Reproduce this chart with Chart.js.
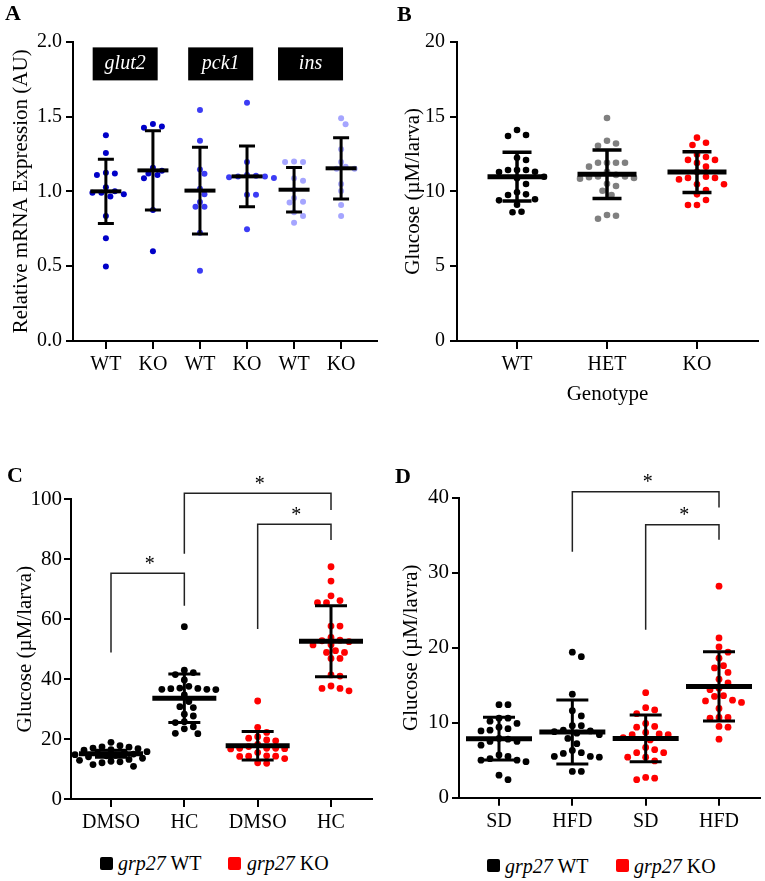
<!DOCTYPE html>
<html>
<head>
<meta charset="utf-8">
<script src="https://cdn.jsdelivr.net/npm/chart.js@4.4.1/dist/chart.umd.min.js"></script>
<style>
  body { margin: 0; background: #fff; }
  #fig { position: relative; width: 765px; height: 881px; font-family: "Liberation Serif", "Times New Roman", serif; color: #000; }
  canvas { position: absolute; }
  .letter { position: absolute; font-weight: bold; font-size: 22px; line-height: 22px; }
  .leg { position: absolute; font-size: 20px; line-height: 20px; white-space: nowrap; }
  .sq { position: absolute; width: 13px; height: 13px; border-radius: 2px; }
</style>
</head>
<body>
<div id="fig">
  <canvas id="chartA" width="380" height="430" style="left:0;top:0"></canvas>
  <canvas id="chartB" width="385" height="430" style="left:380px;top:0"></canvas>
  <canvas id="chartC" width="380" height="400" style="left:0;top:440px"></canvas>
  <canvas id="chartD" width="385" height="400" style="left:380px;top:440px"></canvas>

  <div class="letter" style="left:5px;top:2px">A</div>
  <div class="letter" style="left:397px;top:3px">B</div>
  <div class="letter" style="left:7px;top:464px">C</div>
  <div class="letter" style="left:395px;top:465px">D</div>

  <div class="sq" style="left:100px;top:857px;background:#000"></div>
  <div class="leg" style="left:118px;top:853px"><i>grp27</i> WT</div>
  <div class="sq" style="left:228px;top:857px;background:#f00"></div>
  <div class="leg" style="left:247px;top:853px"><i>grp27</i> KO</div>

  <div class="sq" style="left:487px;top:859px;background:#000"></div>
  <div class="leg" style="left:505px;top:856px"><i>grp27</i> WT</div>
  <div class="sq" style="left:616px;top:859px;background:#f00"></div>
  <div class="leg" style="left:634px;top:856px"><i>grp27</i> KO</div>
</div>

<script>
// ---- panel A: relative mRNA expression ----
const genesA = ["glut2", "pck1", "ins"];
const labelsA = ["WT", "KO", "WT", "KO", "WT", "KO"];
const glut2WT = [1.375, 1.257, 1.12, 1.125, 1.11, 1.027, 1.0, 0.99, 0.99, 0.965, 0.98, 0.835, 0.686, 0.497];
const glut2KO = [1.45, 1.425, 1.434, 1.158, 1.12, 1.087, 1.109, 1.138, 0.875, 0.60];
const pck1WT = [1.543, 1.338, 1.117, 1.146, 1.017, 0.98, 0.928, 0.897, 0.897, 0.724, 0.47];
const pck1KO = [1.592, 1.196, 1.10, 1.105, 1.09, 1.11, 1.1, 1.095, 0.977, 0.977, 0.746];
const insWT = [1.196, 1.196, 1.2, 1.087, 1.071, 1.01, 0.955, 0.93, 0.925, 0.86, 0.835, 0.79];
const insKO = [1.488, 1.449, 1.281, 1.196, 1.151, 1.151, 1.164, 1.049, 1.002, 0.909, 0.835];
const meanA = [1.0, 1.14, 1.005, 1.10, 1.011, 1.154];
const sdA = [0.214, 0.265, 0.29, 0.203, 0.149, 0.205];

// ---- panel B: glucose by genotype ----
const labelsB = ["WT", "HET", "KO"];
const glucWT = [14.1, 13.77, 13.7, 12.25, 12.09, 11.43, 11.43, 11.43, 11.31, 11.29, 10.98, 10.87, 10.49, 9.94, 9.8, 9.76, 9.47, 9.4, 9.11, 8.64, 8.6];
const glucHET = [14.9, 13.38, 13.2, 13.05, 11.91, 11.91, 11.91, 11.91, 11.65, 11.3, 11.1, 11.0, 10.95, 10.9, 10.85, 11.0, 10.5, 10.36, 10.04, 9.75, 8.42, 8.37, 8.17];
const glucKO = [13.59, 13.25, 13.1, 12.47, 12.3, 12.1, 12.1, 11.9, 11.65, 11.3, 10.98, 10.9, 10.9, 10.8, 10.47, 10.47, 10.09, 9.8, 9.42, 9.09, 9.09];
const meanB = [10.98, 11.14, 11.29];
const sdB = [1.625, 1.625, 1.36];

// ---- panel C: hydrocortisone ----
const labelsC = ["DMSO", "HC", "DMSO", "HC"];
const wtDMSO = [18.9, 17.8, 17.4, 17.3, 17.0, 16.8, 16.5, 16.3, 15.8, 15.5, 15.2, 15.0, 14.8, 14.6, 14.4, 14.1, 13.6, 13.2, 12.9, 12.6, 12.4, 12.1, 11.5, 10.9];
const wtHC = [57.5, 43.0, 42.2, 41.5, 39.7, 37.6, 37.0, 36.8, 36.6, 36.5, 36.6, 36.9, 34.7, 32.5, 30.8, 30.5, 28.3, 27.7, 25.8, 25.5, 24.1, 23.4, 21.9, 21.8];
const koDMSO = [32.7, 23.9, 22.2, 20.8, 20.3, 19.7, 19.4, 18.2, 17.5, 16.9, 16.9, 16.8, 16.9, 16.7, 14.3, 14.4, 14.3, 14.2, 12.1, 11.9, 13.5, 15.5];
const koHC = [77.5, 72.7, 67.8, 66.2, 65.5, 65.5, 57.7, 57.7, 53.9, 53.0, 52.8, 52.5, 51.4, 51.5, 49.5, 48.9, 48.9, 46.9, 46.9, 41.4, 41.0, 37.7, 36.9, 36.9, 36.1];
const meanC = [15.1, 33.6, 17.75, 52.65];
const sdC = [1.2, 8.1, 4.75, 11.85];
const bracketsC = [
  { from: 1, to: 2, top: 75.3, left: 48.9, right: 64.5 },
  { from: 2, to: 4, top: 102, left: 81.8, right: 96.4 },
  { from: 3, to: 4, top: 91.7, left: 56.7, right: 86.4 }
];

// ---- panel D: diet ----
const labelsD = ["SD", "HFD", "SD", "HFD"];
const wtSD = [12.4, 12.4, 10.6, 10.6, 10.2, 9.9, 9.4, 9.2, 9.0, 8.9, 7.9, 7.5, 7.5, 7.0, 5.7, 5.5, 5.2, 5.0, 4.8, 5.0, 3.0, 2.4, 7.8];
const wtHFD = [19.4, 18.8, 13.8, 11.6, 10.9, 9.6, 9.6, 9.0, 8.6, 8.4, 7.9, 7.2, 6.3, 6.0, 5.9, 5.5, 5.4, 5.5, 3.5, 3.5, 8.8, 8.9];
const koSD = [14.0, 12.0, 11.7, 11.2, 9.9, 9.5, 9.4, 8.7, 8.5, 8.4, 8.4, 7.7, 6.7, 6.4, 6.0, 6.0, 5.4, 5.4, 4.9, 2.7, 2.6, 2.4, 8.0];
const koHFD = [28.2, 21.3, 20.1, 19.4, 18.6, 17.6, 17.3, 16.7, 15.8, 15.3, 14.6, 14.4, 13.6, 13.5, 13.0, 12.9, 12.7, 11.9, 10.7, 10.7, 10.6, 9.5, 9.4, 7.8];
const meanD = [7.87, 8.76, 7.91, 14.84];
const sdD = [2.85, 4.27, 3.11, 4.62];
const bracketsD = [
  { from: 2, to: 4, top: 40.8, left: 32.8, right: 38.7 },
  { from: 3, to: 4, top: 36.4, left: 22.4, right: 34.4 }
];

Chart.defaults.font.family = '"Liberation Serif", "Times New Roman", serif';
Chart.defaults.color = "#000";

// spread points sideways so they don't overlap (simple beeswarm)
function swarm(values, center, pxX, pxY, minDist, step) {
  const order = values.map((v, i) => i).sort((a, b) => values[b] - values[a]);
  const placed = [];
  const pts = [];
  for (const i of order) {
    const py = values[i] * pxY;
    for (let k = 0; k < 80; k++) {
      const dx = (k % 2 ? 1 : -1) * Math.ceil(k / 2) * step;
      if (placed.every(p => (p.x - dx) ** 2 + (p.y - py) ** 2 >= minDist * minDist)) {
        placed.push({ x: dx, y: py });
        pts.push({ x: center + dx / pxX, y: values[i] });
        break;
      }
    }
  }
  return pts;
}

const meanSdPlugin = {
  id: "meanSd",
  afterDatasetsDraw(chart, args, opts) {
    const { ctx, scales: { x, y } } = chart;
    ctx.save();
    ctx.strokeStyle = "#000";
    opts.means.forEach((m, i) => {
      const cx = x.getPixelForValue(i + 1);
      const ym = y.getPixelForValue(m);
      const yt = y.getPixelForValue(m + opts.sds[i]);
      const yb = y.getPixelForValue(m - opts.sds[i]);
      ctx.lineWidth = opts.lineWidth;
      ctx.beginPath();
      ctx.moveTo(cx, yt); ctx.lineTo(cx, yb);
      ctx.moveTo(cx - opts.capHalf, yt); ctx.lineTo(cx + opts.capHalf, yt);
      ctx.moveTo(cx - opts.capHalf, yb); ctx.lineTo(cx + opts.capHalf, yb);
      ctx.stroke();
      ctx.lineWidth = opts.meanWidth;
      ctx.beginPath();
      ctx.moveTo(cx - opts.meanHalf, ym); ctx.lineTo(cx + opts.meanHalf, ym);
      ctx.stroke();
    });
    ctx.restore();
  }
};

const extrasPlugin = {
  id: "extras",
  afterDraw(chart, args, opts) {
    const { ctx, scales: { x, y } } = chart;
    ctx.save();
    (opts.brackets || []).forEach(b => {
      const x1 = x.getPixelForValue(b.from), x2 = x.getPixelForValue(b.to);
      const yt = y.getPixelForValue(b.top);
      ctx.strokeStyle = "#222";
      ctx.lineWidth = 1.5;
      ctx.beginPath();
      ctx.moveTo(x1, y.getPixelForValue(b.left));
      ctx.lineTo(x1, yt);
      ctx.lineTo(x2, yt);
      ctx.lineTo(x2, y.getPixelForValue(b.right));
      ctx.stroke();
      ctx.fillStyle = "#000";
      ctx.font = '20px "Liberation Serif", serif';
      ctx.textAlign = "center";
      ctx.textBaseline = "alphabetic";
      ctx.fillText("*", (x1 + x2) / 2 + 2, yt - 3.5);
    });
    (opts.genes || []).forEach((g, i) => {
      const cx = x.getPixelForValue(opts.genePos[i]);
      const top = y.getPixelForValue(1.962);
      ctx.fillStyle = "#000";
      ctx.fillRect(cx - 32.5, top, 65, 33);
      ctx.fillStyle = "#fff";
      ctx.font = 'italic 20px "Liberation Serif", serif';
      ctx.textAlign = "center";
      ctx.textBaseline = "middle";
      ctx.fillText(g, cx, top + 16.5);
    });
    ctx.restore();
  }
};

function makeChart(id, cfg) {
  const a = cfg.area;
  const pxX = (a.right - a.left) / (cfg.xmax - cfg.xmin);
  const pxY = (a.bottom - a.top) / (cfg.ymax - cfg.ymin);
  const datasets = cfg.groups.map((vals, i) => ({
    data: swarm(vals, i + 1, pxX, pxY, cfg.style.minDist, cfg.style.step),
    backgroundColor: cfg.colors[i],
    pointRadius: cfg.style.radius,
    pointHoverRadius: cfg.style.radius,
    borderWidth: 0
  }));
  const axisGrid = { drawOnChartArea: false, color: "#000", lineWidth: 2 };
  return new Chart(document.getElementById(id), {
    type: "scatter",
    data: { datasets },
    plugins: [meanSdPlugin, extrasPlugin],
    options: {
      responsive: false,
      animation: false,
      devicePixelRatio: 1,
      layout: { padding: { left: 0, top: a.top, right: cfg.w - a.right, bottom: cfg.h - a.bottom - cfg.xHeight } },
      plugins: {
        legend: { display: false },
        tooltip: { enabled: false },
        meanSd: Object.assign({ means: cfg.means, sds: cfg.sds }, cfg.style),
        extras: cfg.extras || {}
      },
      scales: {
        x: {
          type: "linear",
          min: cfg.xmin,
          max: cfg.xmax,
          afterBuildTicks: s => { s.ticks = cfg.labels.map((_, i) => ({ value: i + 1 })); },
          afterFit: s => { s.height = cfg.xHeight; },
          ticks: { callback: v => cfg.labels[v - 1], font: { size: 20 }, padding: 4, autoSkip: false, maxRotation: 0 },
          grid: Object.assign({ tickLength: 8 }, axisGrid),
          border: { color: "#000", width: 2 },
          title: cfg.xTitle ? { display: true, text: cfg.xTitle, font: { size: 21 }, padding: { top: 0, bottom: 9 } } : { display: false }
        },
        y: {
          min: cfg.ymin,
          max: cfg.ymax,
          afterFit: s => { s.width = a.left; },
          ticks: { stepSize: cfg.yStep, callback: cfg.yFmt, font: { size: cfg.yFont }, padding: cfg.yPad },
          grid: Object.assign({ tickLength: 7 }, axisGrid),
          border: { color: "#000", width: 2 },
          title: { display: true, text: cfg.yTitle, font: { size: 21 }, padding: { top: cfg.yTitlePad, bottom: 0 } }
        }
      }
    }
  });
}

makeChart("chartA", {
  w: 380, h: 430, xHeight: 50,
  area: { left: 73, top: 41.7, right: 378, bottom: 341 },
  xmin: 0.301, xmax: 6.763, ymin: 0, ymax: 2, yStep: 0.5,
  yFmt: v => v.toFixed(1), yFont: 20, yPad: 4, yTitlePad: 8.4,
  yTitle: "Relative mRNA Expression (AU)",
  labels: labelsA,
  groups: [glut2WT, glut2KO, pck1WT, pck1KO, insWT, insKO],
  colors: ["#0000c8", "#0000c8", "#3c3cf5", "#3c3cf5", "#a5a5ff", "#a5a5ff"],
  means: meanA, sds: sdA,
  style: { radius: 3, minDist: 6.2, step: 4.5, meanHalf: 15.5, meanWidth: 4, capHalf: 8, lineWidth: 3 },
  extras: { genes: genesA, genePos: [1.41, 3.44, 5.35] }
});

makeChart("chartB", {
  w: 385, h: 430, xHeight: 75,
  area: { left: 77, top: 41.7, right: 378, bottom: 341 },
  xmin: 0.333, xmax: 3.678, ymin: 0, ymax: 20, yStep: 5,
  yFmt: v => v, yFont: 20, yPad: 5, yTitlePad: 21,
  yTitle: "Glucose (\u00b5M/larva)", xTitle: "Genotype",
  labels: labelsB,
  groups: [glucWT, glucHET, glucKO],
  colors: ["#000000", "#808080", "#ff0000"],
  means: meanB, sds: sdB,
  style: { radius: 3.3, minDist: 8.2, step: 4.5, meanHalf: 29.5, meanWidth: 5, capHalf: 14.5, lineWidth: 3.5 }
});

makeChart("chartC", {
  w: 380, h: 400, xHeight: 40,
  area: { left: 71, top: 59.3, right: 372, bottom: 359 },
  xmin: 0.4545, xmax: 4.559, ymin: 0, ymax: 100, yStep: 20,
  yFmt: v => v, yFont: 21, yPad: 2, yTitlePad: 12.4,
  yTitle: "Glucose (\u00b5M/larva)",
  labels: labelsC,
  groups: [wtDMSO, wtHC, koDMSO, koHC],
  colors: ["#000000", "#000000", "#ff0000", "#ff0000"],
  means: meanC, sds: sdC,
  style: { radius: 3.4, minDist: 7, step: 4.5, meanHalf: 32, meanWidth: 5, capHalf: 16, lineWidth: 3 },
  extras: { brackets: bracketsC }
});

makeChart("chartD", {
  w: 385, h: 400, xHeight: 40,
  area: { left: 79, top: 57.7, right: 380, bottom: 357.7 },
  xmin: 0.4545, xmax: 4.559, ymin: 0, ymax: 40, yStep: 10,
  yFmt: v => v, yFont: 21, yPad: 3, yTitlePad: 18.4,
  yTitle: "Glucose (\u00b5M/lavra)",
  labels: labelsD,
  groups: [wtSD, wtHFD, koSD, koHFD],
  colors: ["#000000", "#000000", "#ff0000", "#ff0000"],
  means: meanD, sds: sdD,
  style: { radius: 3.4, minDist: 8, step: 4.5, meanHalf: 33, meanWidth: 5, capHalf: 16, lineWidth: 3 },
  extras: { brackets: bracketsD }
});
</script>
</body>
</html>
